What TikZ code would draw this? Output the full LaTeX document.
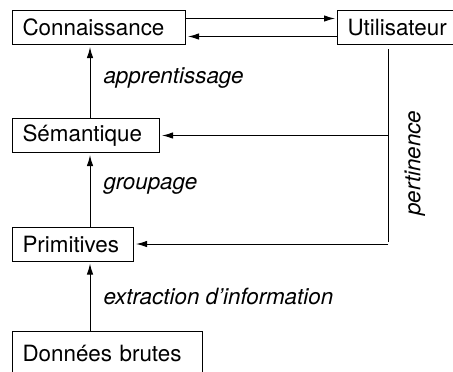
\documentclass[tikz,border=0pt]{standalone}
\usepackage{fontspec}
\setmainfont{TeX Gyre Heros}
\usetikzlibrary{arrows.meta}

\begin{document}
\begin{tikzpicture}[x=0.5pt,y=-0.5pt,line width=0.5pt,shorten >=1pt,>={Latex[length=5.5pt,width=3.2pt]}]
      \tikzstyle{bloc}=[draw,rectangle,anchor=west,inner xsep=5pt,inner ysep=0pt,minimum height=17pt,align=left,font=\fontsize{11.2}{13}\selectfont]
      \tikzstyle{etiq}=[right,inner xsep=6.5pt,font=\fontsize{11.2}{13}\selectfont\itshape]

      \useasboundingbox (0,0) rectangle (453,371);
      \clip (0,0) rectangle (453,371);

      \node[bloc,text width=76.5pt] (conn) at (12,27.5) {Connaissance};
      \node[bloc,text width=58pt] (util) at (337,27.5) {Utilisateur};
      \node[bloc,text width=63.5pt] (sem) at (12,135.5) {Sémantique};
      \node[bloc,text width=50.5pt] (prim) at (12,244) {Primitives};
      \node[bloc,text width=85pt,minimum height=22pt] (donnees) at (12,353) {Données brutes};

      \coordinate (axe) at (90,0);
      \coordinate (haut) at (388,49);
      \coordinate (milieu) at (388,135.5);
      \coordinate (bas) at (388,244);

      \draw[->] ([yshift=4.5pt]conn.east) -- ([yshift=4.5pt]util.west);
      \draw[->] ([yshift=-4.5pt]util.west) -- ([yshift=-4.5pt]conn.east);

      \draw[->] (donnees.north -| axe) -- node[etiq]{extraction d'information} (prim.south -| axe);
      \draw[->] (prim.north -| axe) -- node[etiq,pos=0.55]{groupage} (sem.south -| axe);
      \draw[->] (sem.north -| axe) -- node[etiq,pos=0.55]{apprentissage} (conn.south -| axe);

      \draw (haut) -- node[pos=0.585,rotate=90,anchor=north,inner sep=8pt,font=\fontsize{11.2}{13}\selectfont\itshape]{pertinence} (bas);
      \draw[->] (milieu) -- (sem.east);
      \draw[->] (bas) -- (prim.east);
    \end{tikzpicture}
\end{document}
